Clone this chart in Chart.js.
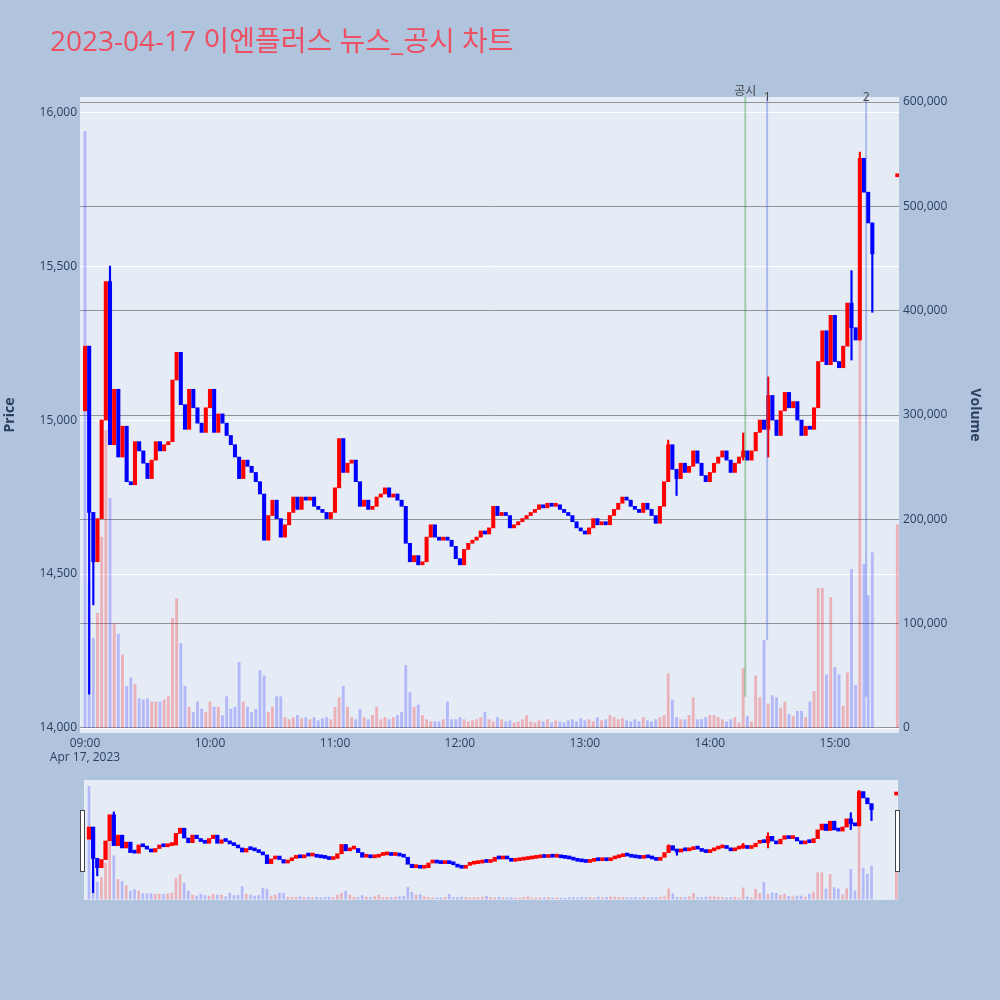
<!DOCTYPE html>
<html>
  <head>
    <meta charset="utf-8" />
    <title>이엔플러스 뉴스_공시 차트</title>
    <script src="https://cdn.jsdelivr.net/npm/chart.js@4.4.1/dist/chart.umd.min.js"></script>
    <style>
      html, body { margin: 0; padding: 0; background: #b0c4de; }
      #wrap { position: relative; width: 1000px; height: 1000px; }
      #main { position: absolute; left: 0; top: 0; }
      #slider { position: absolute; left: 84px; top: 780px; }
      .grip { position: absolute; top: 810px; width: 3px; height: 60px; background: #fff; border: 1px solid #444; }
    </style>
  </head>
  <body>
    <div id="wrap">
      <canvas id="main" width="1000" height="780"></canvas>
      <canvas id="slider" width="814" height="120"></canvas>
      <div class="grip" style="left:80px"></div>
      <div class="grip" style="left:895px"></div>
    </div>
    <script>
      const chartTitle = "2023-04-17 이엔플러스 뉴스_공시 차트";
      const dateLabel = "Apr 17, 2023";

      // minutes after 09:00, one candle per 2 minutes
      const slotMinutes = 2;
      const firstOpen = 15030;
      const closes = [
        15240, 14700, 14540, 14680, 15000, 15450, 14920, 15100, 14880, 14980,
        14800, 14790, 14930, 14900, 14860, 14810, 14870, 14930, 14900, 14920,
        14930, 15130, 15220, 15050, 14970, 15100, 15040, 14990, 14960, 15040,
        15100, 14960, 15020, 14990, 14950, 14920, 14880, 14810, 14870, 14850,
        14830, 14800, 14760, 14610, 14690, 14740, 14680, 14620, 14660, 14700,
        14750, 14710, 14750, 14740, 14750, 14720, 14710, 14700, 14680, 14700,
        14780, 14940, 14830, 14860, 14870, 14800, 14720, 14740, 14710, 14720,
        14750, 14760, 14780, 14750, 14760, 14740, 14720, 14600, 14540, 14560,
        14530, 14540, 14620, 14660, 14620, 14610, 14620, 14610, 14590, 14550,
        14530, 14580, 14600, 14610, 14620, 14640, 14630, 14650, 14720, 14690,
        14700, 14690, 14650, 14660, 14670, 14680, 14690, 14700, 14710, 14725,
        14715, 14730, 14720, 14725, 14710, 14700, 14690, 14670, 14650, 14640,
        14630, 14650, 14680, 14660, 14670, 14660, 14690, 14710, 14730, 14750,
        14740, 14720, 14710, 14700, 14730, 14710, 14690, 14665, 14720, 14800,
        14920, 14840, 14810, 14860, 14830, 14850, 14900, 14860, 14820, 14800,
        14830, 14860, 14880, 14900, 14870, 14830, 14860, 14880, 14900, 14870,
        14900, 14960, 15000, 14970, 15080, 15000, 14950, 15030, 15090, 15040,
        15060, 15000, 14950, 14980, 14970, 15040, 15190, 15290, 15180, 15340,
        15190, 15170, 15240, 15380, 15300, 15260, 15850, 15740, 15640, 15540,
      ];
      const volumes = [
        572000, 140000, 86000, 110000, 183000, 285000, 220000, 100000, 90000, 70000,
        40000, 48000, 42000, 28000, 27000, 28000, 25000, 25000, 25000, 27000,
        30000, 105000, 124000, 81000, 40000, 20000, 15000, 25000, 18000, 15000,
        25000, 20000, 20000, 12000, 30000, 18000, 20000, 63000, 25000, 20000,
        15000, 18000, 55000, 50000, 15000, 20000, 30000, 30000, 10000, 8000,
        10000, 12000, 9000, 10000, 8000, 10000, 7000, 9000, 10000, 8000,
        20000, 29000, 40000, 20000, 10000, 8000, 18000, 10000, 8000, 12000,
        20000, 8000, 10000, 8000, 10000, 12000, 15000, 60000, 34000, 20000,
        22000, 12000, 8000, 6000, 6000, 6000, 8000, 25000, 8000, 8000,
        10000, 8000, 6000, 7000, 8000, 10000, 15000, 8000, 6000, 10000,
        8000, 6000, 7000, 5000, 6000, 8000, 12000, 6000, 5000, 7000,
        6000, 8000, 5000, 7000, 6000, 5000, 7000, 8000, 6000, 9000,
        7000, 8000, 6000, 10000, 7000, 8000, 12000, 10000, 8000, 9000,
        7000, 6000, 8000, 6000, 10000, 7000, 6000, 8000, 10000, 12000,
        52000, 27000, 10000, 8000, 8000, 12000, 29000, 8000, 8000, 10000,
        12000, 12000, 10000, 8000, 6000, 8000, 10000, 5000, 57000, 11000,
        6000, 50000, 29000, 84000, 23000, 31000, 29000, 19000, 25000, 13000,
        11000, 16000, 16000, 10000, 25000, 35000, 134000, 134000, 51000, 125000,
        58000, 51000, 21000, 53000, 152000, 41000, 412000, 157000, 127000, 168000,
      ];
      // long shadows that stick out of the bodies
      const wickSlots = [1, 2, 6, 140, 142, 158, 164, 184, 186, 189];
      const wickLows = [14110, 14400, 15100, 14800, 14755, 14870, 14880, 15195, 15260, 15350];
      const wickHighs = [15140, 14700, 15500, 14935, 14840, 14958, 15140, 15485, 15870, 15640];

      // 15:30 closing auction
      const auctionMinute = 390;
      const auctionPrice = 15790;
      const auctionVolume = 195000;

      const tickMinutes = [0, 60, 120, 180, 240, 300, 360];
      const tickLabels = ["09:00", "10:00", "11:00", "12:00", "13:00", "14:00", "15:00"];
      const priceTicks = [14000, 14500, 15000, 15500, 16000];
      const volumeTicks = [0, 100000, 200000, 300000, 400000, 500000, 600000];

      const markerMinutes = [317, 327.5, 375];
      const markerLabels = ["공시", "1", "2"];
      const markerBottoms = [30000, 84000, 30000];
      const markerColors = ["rgba(0,128,0,0.3)", "rgba(60,90,230,0.35)", "rgba(60,90,230,0.35)"];

      const xMin = -2.4, xMax = 390.8;
      const priceMin = 13984, priceMax = 16049;
      const volMin = -4800, volMax = 604800;

      const ink = "#2a3f5f";
      const family = "'Open Sans', 'Noto Sans CJK KR', sans-serif";
      const upColor = "#ff0000", downColor = "#0000ff";
      const volUp = "rgba(255,0,0,0.25)", volDown = "rgba(0,0,255,0.22)";

      const opens = closes.map((c, i) => (i === 0 ? firstOpen : closes[i - 1]));
      const minutes = closes.map((c, i) => i * slotMinutes);
      const isUp = closes.map((c, i) => c >= opens[i]);

      const candlePoints = closes.map((c, i) => ({ x: minutes[i], y: [opens[i], c] }));
      candlePoints.push({ x: auctionMinute, y: [auctionPrice, auctionPrice] });
      const candleColors = isUp.map((u) => (u ? upColor : downColor));
      candleColors.push(upColor);

      const volPoints = volumes.map((v, i) => ({ x: minutes[i], y: v }));
      volPoints.push({ x: auctionMinute, y: auctionVolume });
      const volColors = isUp.map((u) => (u ? volUp : volDown));
      volColors[0] = volDown;
      volColors.push(volUp);

      const wickPoints = wickSlots.map((s, i) => ({ x: minutes[s], y: [wickLows[i], wickHighs[i]] }));
      const wickColors = wickSlots.map((s) => (isUp[s] ? upColor : downColor));

      function makeDatasets(look) {
        return [
          {
            type: "bar", data: candlePoints, yAxisID: "yPrice", backgroundColor: candleColors,
            barThickness: look.candleBar, minBarLength: look.minBar, grouped: false, order: 1,
          },
          {
            type: "bar", data: wickPoints, yAxisID: "yPrice", backgroundColor: wickColors,
            barThickness: 1.5, grouped: false, order: 2,
          },
          {
            type: "bar", data: volPoints, yAxisID: "yVol", backgroundColor: volColors,
            barThickness: look.volBar, grouped: false, order: 3,
          },
        ];
      }

      const plotBg = {
        id: "plotBg",
        beforeDraw(chart) {
          const { ctx, chartArea: a } = chart;
          ctx.save();
          ctx.fillStyle = "#e5ecf6";
          ctx.fillRect(a.left, a.top, a.width, a.height);
          ctx.restore();
        },
      };

      const captions = {
        id: "captions",
        afterDraw(chart) {
          const { ctx, scales } = chart;
          ctx.save();
          ctx.fillStyle = "rgb(236,80,98)";
          ctx.font = "28px " + family;
          ctx.textAlign = "left";
          ctx.textBaseline = "alphabetic";
          ctx.fillText(chartTitle, 50, 51);
          ctx.font = "12px " + family;
          ctx.fillStyle = "#444";
          ctx.textAlign = "center";
          markerMinutes.forEach((m, i) => {
            ctx.fillText(markerLabels[i], scales.x.getPixelForValue(m), i === 0 ? 95 : 101);
          });
          ctx.restore();
        },
      };

      const markerSets = markerMinutes.map((m, i) => ({
        type: "line",
        data: [{ x: m, y: markerBottoms[i] }, { x: m, y: volMax }],
        yAxisID: "yVol",
        borderColor: markerColors[i],
        borderWidth: 2,
        pointRadius: 0,
        order: 0,
      }));

      const tickFont = { family, size: 12 };
      const titleFont = { family, size: 14, weight: "bold" };

      new Chart(document.getElementById("main"), {
        type: "bar",
        data: { datasets: makeDatasets({ candleBar: 3.4, minBar: 3, volBar: 2.2 }).concat(markerSets) },
        options: {
          responsive: false,
          animation: false,
          events: [],
          layout: { padding: { top: 97, left: 0, right: 0, bottom: 0 } },
          plugins: { legend: { display: false }, tooltip: { enabled: false } },
          scales: {
            x: {
              type: "linear", min: xMin, max: xMax, offset: false,
              grid: { display: false, drawTicks: false },
              border: { display: false },
              afterBuildTicks: (s) => { s.ticks = tickMinutes.map((v) => ({ value: v })); },
              ticks: {
                autoSkip: false, maxRotation: 0, color: ink, font: tickFont, padding: 3,
                callback: (v) => {
                  const i = tickMinutes.indexOf(v);
                  return i === 0 ? [tickLabels[0], dateLabel] : tickLabels[i];
                },
              },
              afterFit: (s) => { s.height = 47; },
            },
            yPrice: {
              type: "linear", position: "left", min: priceMin, max: priceMax,
              afterBuildTicks: (s) => { s.ticks = priceTicks.map((v) => ({ value: v })); },
              grid: { color: "#ffffff", lineWidth: 1, drawTicks: false },
              border: { display: false },
              ticks: { color: ink, font: tickFont, padding: 3, callback: (v) => v.toLocaleString("en-US") },
              title: { display: true, text: "Price", color: ink, font: titleFont, padding: { top: 2, bottom: 0 } },
              afterFit: (s) => { s.width = 80; },
            },
            yVol: {
              type: "linear", position: "right", min: volMin, max: volMax,
              afterBuildTicks: (s) => { s.ticks = volumeTicks.map((v) => ({ value: v })); },
              grid: { color: "rgba(90,90,90,0.6)", lineWidth: 1, drawTicks: false },
              border: { display: false },
              ticks: { color: ink, font: tickFont, padding: 4, callback: (v) => v.toLocaleString("en-US") },
              title: { display: true, text: "Volume", color: ink, font: titleFont, padding: { top: 17, bottom: 0 } },
              afterFit: (s) => { s.width = 101; },
            },
          },
        },
        plugins: [plotBg, captions],
      });

      // range slider preview
      new Chart(document.getElementById("slider"), {
        type: "bar",
        data: { datasets: makeDatasets({ candleBar: 3.6, minBar: 3, volBar: 2 }) },
        options: {
          responsive: false,
          animation: false,
          events: [],
          layout: { padding: 0 },
          plugins: { legend: { display: false }, tooltip: { enabled: false } },
          scales: {
            x: { type: "linear", min: xMin, max: xMax, offset: false, display: false },
            yPrice: { type: "linear", min: priceMin, max: priceMax, display: false },
            yVol: { type: "linear", min: volMin, max: volMax, display: false },
          },
        },
        plugins: [plotBg],
      });
    </script>
  </body>
</html>
